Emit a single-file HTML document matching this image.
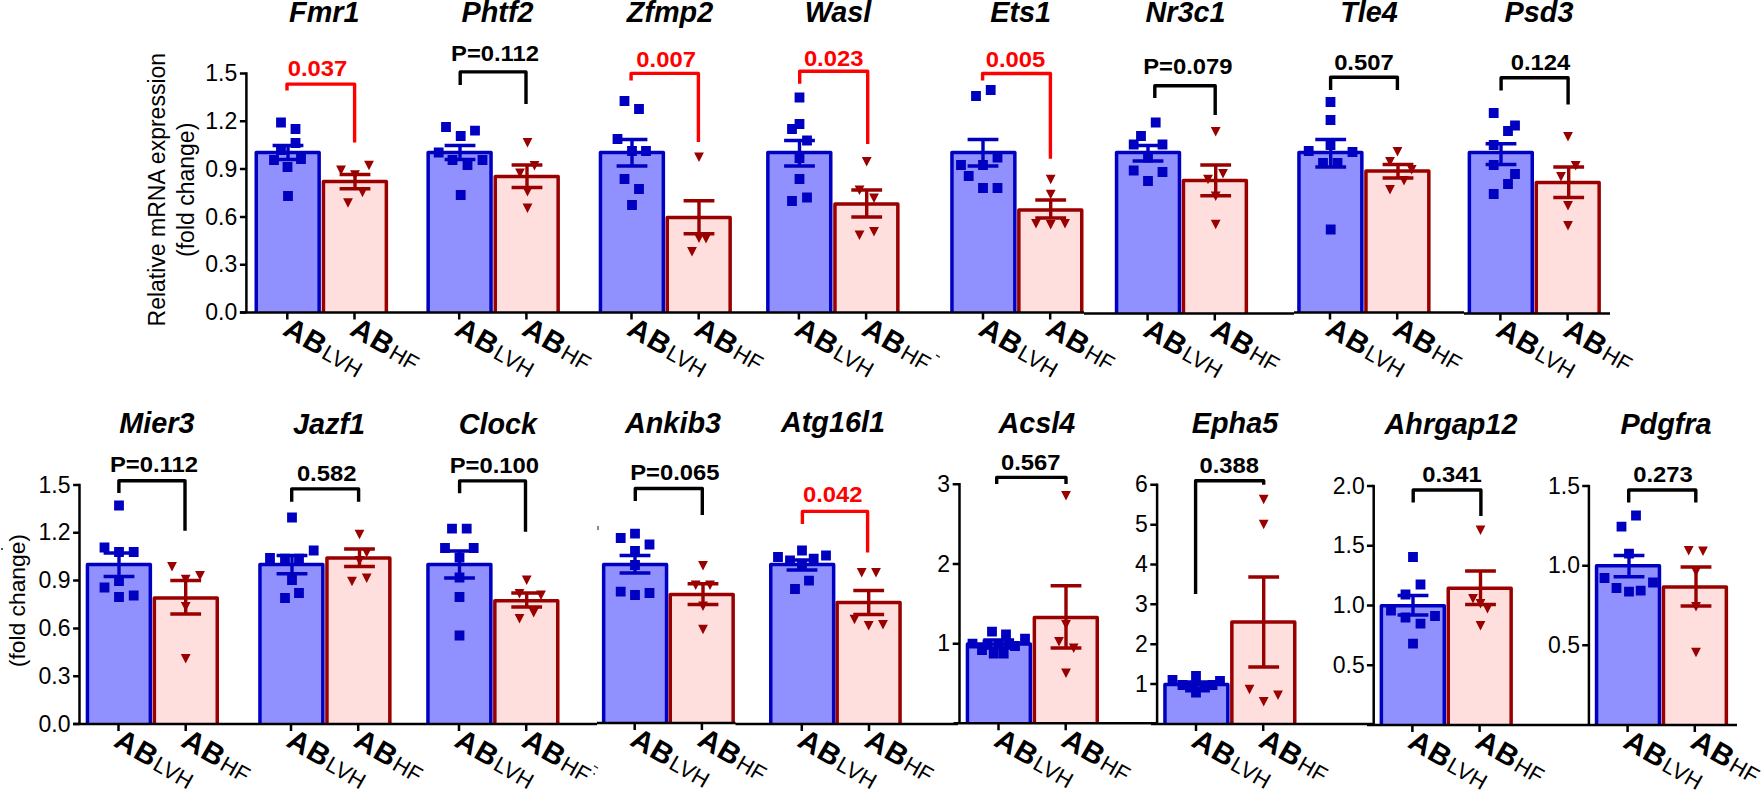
<!DOCTYPE html>
<html><head><meta charset="utf-8"><title>Figure</title><style>
html,body{margin:0;padding:0;background:#fff}
svg{display:block}
text{font-family:"Liberation Sans",Arial,sans-serif;fill:#000}
.ti{font-size:28.8px;font-weight:bold;font-style:italic;text-anchor:middle}
.pv{font-size:23.8px;font-weight:bold;text-anchor:middle}
.rd{fill:#ff0000}
.tk{font-size:23.0px;text-anchor:end}
.yl{font-size:23px;text-anchor:middle}
.ab{font-size:29.5px;font-weight:bold}
.sub{font-size:22.3px;font-weight:normal;font-style:normal}
</style></head><body>
<svg width="1762" height="793" viewBox="0 0 1762 793">
<rect width="1762" height="793" fill="#fff"/>
<g>
<path d="M256.25 312.5V152.5H319.15V312.5" fill="#9090ff" stroke="#0000c0" stroke-width="3.5" stroke-linejoin="round"/>
<path d="M323.45 312.5V181.4H386.35V312.5" fill="#ffdede" stroke="#990000" stroke-width="3.5" stroke-linejoin="round"/>
<path d="M276.1 117.6h9.8v9.8h-9.8zM290.6 124.1h9.8v9.8h-9.8zM290.6 138.1h9.8v9.8h-9.8zM276.1 145.1h9.8v9.8h-9.8zM269.1 155.1h9.8v9.8h-9.8zM296.1 154.1h9.8v9.8h-9.8zM282.6 162.1h9.8v9.8h-9.8zM283.1 191.1h9.8v9.8h-9.8z" fill="#0000c0"/>
<path d="M336.1 165.6h9.8l-4.9 9.6zM364.1 160.7h9.8l-4.9 9.6zM350.1 170.2h9.8l-4.9 9.6zM357.6 187.6h9.8l-4.9 9.6zM343.1 198.2h9.8l-4.9 9.6z" fill="#990000"/>
<path d="M272.6 145.5H303.4M272.6 159.5H303.4M288 145.5V159.5" fill="none" stroke="#0000c0" stroke-width="3.4"/>
<path d="M339.6 174.5H370.4M339.6 188.7H370.4M355 174.5V188.7" fill="none" stroke="#990000" stroke-width="3.4"/>
<path d="M287 90.5V84.1H354.6V142.5" fill="none" stroke="#ff0000" stroke-width="3.4" stroke-linejoin="round"/>
<text x="324.3" y="21.9" class="ti">Fmr1</text>
<text transform="translate(317.5 76.3) scale(1 0.955)" class="pv rd">0.037</text>
<path d="M287.3 312.5v7M354.5 312.5v7" stroke="#000" stroke-width="2.5" fill="none"/>
<text transform="translate(281.4 334.1) rotate(30)" class="ab">A<tspan dx="1">B</tspan><tspan class="sub" dx="1.6" dy="0.7">LVH</tspan></text>
<text transform="translate(348.6 334.1) rotate(30)" class="ab">A<tspan dx="1">B</tspan><tspan class="sub" dx="1.6" dy="0.7">HF</tspan></text>
</g>
<g>
<path d="M428.15 312.5V152.5H491.05V312.5" fill="#9090ff" stroke="#0000c0" stroke-width="3.5" stroke-linejoin="round"/>
<path d="M495.25 312.5V176.5H558.15V312.5" fill="#ffdede" stroke="#990000" stroke-width="3.5" stroke-linejoin="round"/>
<path d="M441.1 122.1h9.8v9.8h-9.8zM470.1 125.8h9.8v9.8h-9.8zM455.8 131.1h9.8v9.8h-9.8zM433.8 147.6h9.8v9.8h-9.8zM447.6 155.1h9.8v9.8h-9.8zM462.6 160.1h9.8v9.8h-9.8zM477.6 155.1h9.8v9.8h-9.8zM455.8 190.1h9.8v9.8h-9.8z" fill="#0000c0"/>
<path d="M522.6 138h9.8l-4.9 9.6zM529.6 161h9.8l-4.9 9.6zM515.1 168.5h9.8l-4.9 9.6zM522.6 187h9.8l-4.9 9.6zM522.6 203.5h9.8l-4.9 9.6z" fill="#990000"/>
<path d="M444.6 145.5H475.4M444.6 159.5H475.4M460 145.5V159.5" fill="none" stroke="#0000c0" stroke-width="3.4"/>
<path d="M511.6 165H542.4M511.6 187.5H542.4M527 165V187.5" fill="none" stroke="#990000" stroke-width="3.4"/>
<path d="M460.2 84.9V71.9H526V104" fill="none" stroke="#000000" stroke-width="3.4" stroke-linejoin="round"/>
<text x="497.5" y="21.9" class="ti">Phtf2</text>
<text transform="translate(495 60.9) scale(1 0.955)" class="pv">P=0.112</text>
<path d="M459.2 312.5v7M526.4 312.5v7" stroke="#000" stroke-width="2.5" fill="none"/>
<text transform="translate(453.3 334.1) rotate(30)" class="ab">A<tspan dx="1">B</tspan><tspan class="sub" dx="1.6" dy="0.7">LVH</tspan></text>
<text transform="translate(520.5 334.1) rotate(30)" class="ab">A<tspan dx="1">B</tspan><tspan class="sub" dx="1.6" dy="0.7">HF</tspan></text>
</g>
<g>
<path d="M600.45 312.5V152.5H663.35V312.5" fill="#9090ff" stroke="#0000c0" stroke-width="3.5" stroke-linejoin="round"/>
<path d="M667.25 312.5V217.5H730.15V312.5" fill="#ffdede" stroke="#990000" stroke-width="3.5" stroke-linejoin="round"/>
<path d="M619.6 96.1h9.8v9.8h-9.8zM634.1 104.1h9.8v9.8h-9.8zM612.6 134.1h9.8v9.8h-9.8zM627.1 146.1h9.8v9.8h-9.8zM641.1 146.1h9.8v9.8h-9.8zM619.6 174.1h9.8v9.8h-9.8zM634.1 184.1h9.8v9.8h-9.8zM627.1 200.1h9.8v9.8h-9.8z" fill="#0000c0"/>
<path d="M694.1 152.5h9.8l-4.9 9.6zM694.1 233.5h9.8l-4.9 9.6zM701.1 234h9.8l-4.9 9.6zM687.1 247h9.8l-4.9 9.6z" fill="#990000"/>
<path d="M616.6 139.5H647.4M616.6 166H647.4M632 139.5V166" fill="none" stroke="#0000c0" stroke-width="3.4"/>
<path d="M683.6 200.7H714.4M683.6 233.7H714.4M699 200.7V233.7" fill="none" stroke="#990000" stroke-width="3.4"/>
<path d="M631.1 80.4V73.4H698.4V142" fill="none" stroke="#ff0000" stroke-width="3.4" stroke-linejoin="round"/>
<text x="670" y="21.9" class="ti">Zfmp2</text>
<text transform="translate(666.1 66.7) scale(1 0.955)" class="pv rd">0.007</text>
<path d="M631.5 312.5v7M698.7 312.5v7" stroke="#000" stroke-width="2.5" fill="none"/>
<text transform="translate(625.6 334.1) rotate(30)" class="ab">A<tspan dx="1">B</tspan><tspan class="sub" dx="1.6" dy="0.7">LVH</tspan></text>
<text transform="translate(692.8 334.1) rotate(30)" class="ab">A<tspan dx="1">B</tspan><tspan class="sub" dx="1.6" dy="0.7">HF</tspan></text>
</g>
<g>
<path d="M767.85 312.5V152.5H830.75V312.5" fill="#9090ff" stroke="#0000c0" stroke-width="3.5" stroke-linejoin="round"/>
<path d="M834.95 312.5V204H897.85V312.5" fill="#ffdede" stroke="#990000" stroke-width="3.5" stroke-linejoin="round"/>
<path d="M794.6 92.6h9.8v9.8h-9.8zM794.6 119.1h9.8v9.8h-9.8zM787.1 124.1h9.8v9.8h-9.8zM802.1 135.6h9.8v9.8h-9.8zM794.6 153.1h9.8v9.8h-9.8zM794.6 174.1h9.8v9.8h-9.8zM802.1 192.6h9.8v9.8h-9.8zM787.1 196.1h9.8v9.8h-9.8z" fill="#0000c0"/>
<path d="M861.8 157h9.8l-4.9 9.6zM854.6 185.5h9.8l-4.9 9.6zM869.1 193.5h9.8l-4.9 9.6zM854.6 230.5h9.8l-4.9 9.6zM869.1 227h9.8l-4.9 9.6z" fill="#990000"/>
<path d="M784.1 140.5H814.9M784.1 166H814.9M799.5 140.5V166" fill="none" stroke="#0000c0" stroke-width="3.4"/>
<path d="M851.3 190H882.1M851.3 217H882.1M866.7 190V217" fill="none" stroke="#990000" stroke-width="3.4"/>
<path d="M799.7 83.8V71.2H867.7V144" fill="none" stroke="#ff0000" stroke-width="3.4" stroke-linejoin="round"/>
<text x="838" y="21.9" class="ti">Wasl</text>
<text transform="translate(833.65 65.9) scale(1 0.955)" class="pv rd">0.023</text>
<path d="M798.9 312.5v7M866.1 312.5v7" stroke="#000" stroke-width="2.5" fill="none"/>
<text transform="translate(793 334.1) rotate(30)" class="ab">A<tspan dx="1">B</tspan><tspan class="sub" dx="1.6" dy="0.7">LVH</tspan></text>
<text transform="translate(860.2 334.1) rotate(30)" class="ab">A<tspan dx="1">B</tspan><tspan class="sub" dx="1.6" dy="0.7">HF</tspan></text>
</g>
<g>
<path d="M951.95 312.5V152.5H1014.85V312.5" fill="#9090ff" stroke="#0000c0" stroke-width="3.5" stroke-linejoin="round"/>
<path d="M1018.85 312.5V210H1081.75V312.5" fill="#ffdede" stroke="#990000" stroke-width="3.5" stroke-linejoin="round"/>
<path d="M985.8 85.1h9.8v9.8h-9.8zM971.1 91.1h9.8v9.8h-9.8zM992.6 152.6h9.8v9.8h-9.8zM956.1 160.1h9.8v9.8h-9.8zM978.1 160.1h9.8v9.8h-9.8zM963.8 171.1h9.8v9.8h-9.8zM978.1 183.1h9.8v9.8h-9.8zM992.6 183.1h9.8v9.8h-9.8z" fill="#0000c0"/>
<path d="M1045.8 174.7h9.8l-4.9 9.6zM1045.8 189.7h9.8l-4.9 9.6zM1031.1 219h9.8l-4.9 9.6zM1045.8 220h9.8l-4.9 9.6zM1060.1 219h9.8l-4.9 9.6z" fill="#990000"/>
<path d="M967.6 139.5H998.4M967.6 166H998.4M983 139.5V166" fill="none" stroke="#0000c0" stroke-width="3.4"/>
<path d="M1035.3 200H1066.1M1035.3 218H1066.1M1050.7 200V218" fill="none" stroke="#990000" stroke-width="3.4"/>
<path d="M982.6 80.4V73.5H1050.4V158.7" fill="none" stroke="#ff0000" stroke-width="3.4" stroke-linejoin="round"/>
<text x="1020.7" y="21.9" class="ti">Ets1</text>
<text transform="translate(1015.5 66.9) scale(1 0.955)" class="pv rd">0.005</text>
<path d="M983 312.5v7M1050.2 312.5v7" stroke="#000" stroke-width="2.5" fill="none"/>
<text transform="translate(977.1 334.1) rotate(30)" class="ab">A<tspan dx="1">B</tspan><tspan class="sub" dx="1.6" dy="0.7">LVH</tspan></text>
<text transform="translate(1044.3 334.1) rotate(30)" class="ab">A<tspan dx="1">B</tspan><tspan class="sub" dx="1.6" dy="0.7">HF</tspan></text>
</g>
<g>
<path d="M1116.55 313.4V152.5H1179.45V313.4" fill="#9090ff" stroke="#0000c0" stroke-width="3.5" stroke-linejoin="round"/>
<path d="M1183.45 313.4V180.5H1246.35V313.4" fill="#ffdede" stroke="#990000" stroke-width="3.5" stroke-linejoin="round"/>
<path d="M1150.8 117.6h9.8v9.8h-9.8zM1136.1 131.1h9.8v9.8h-9.8zM1128.8 139.6h9.8v9.8h-9.8zM1157.6 139.6h9.8v9.8h-9.8zM1143.1 152.6h9.8v9.8h-9.8zM1128.8 165.6h9.8v9.8h-9.8zM1157.6 167.1h9.8v9.8h-9.8zM1143.1 176.1h9.8v9.8h-9.8z" fill="#0000c0"/>
<path d="M1210.8 127h9.8l-4.9 9.6zM1218.1 169h9.8l-4.9 9.6zM1203.1 174.7h9.8l-4.9 9.6zM1210.8 191.5h9.8l-4.9 9.6zM1210.8 219.7h9.8l-4.9 9.6z" fill="#990000"/>
<path d="M1132.6 145.5H1163.4M1132.6 161H1163.4M1148 145.5V161" fill="none" stroke="#0000c0" stroke-width="3.4"/>
<path d="M1200.3 165H1231.1M1200.3 195.7H1231.1M1215.7 165V195.7" fill="none" stroke="#990000" stroke-width="3.4"/>
<path d="M1154.8 98V85.8H1215.2V115" fill="none" stroke="#000000" stroke-width="3.4" stroke-linejoin="round"/>
<text x="1185.5" y="21.9" class="ti">Nr3c1</text>
<text transform="translate(1187.8 73.5) scale(1 0.955)" class="pv">P=0.079</text>
<path d="M1147.6 313.4v7M1214.8 313.4v7" stroke="#000" stroke-width="2.5" fill="none"/>
<text transform="translate(1141.7 335) rotate(30)" class="ab">A<tspan dx="1">B</tspan><tspan class="sub" dx="1.6" dy="0.7">LVH</tspan></text>
<text transform="translate(1208.9 335) rotate(30)" class="ab">A<tspan dx="1">B</tspan><tspan class="sub" dx="1.6" dy="0.7">HF</tspan></text>
</g>
<g>
<path d="M1298.95 312.5V152.5H1361.85V312.5" fill="#9090ff" stroke="#0000c0" stroke-width="3.5" stroke-linejoin="round"/>
<path d="M1365.95 312.5V171H1428.85V312.5" fill="#ffdede" stroke="#990000" stroke-width="3.5" stroke-linejoin="round"/>
<path d="M1325.6 97.1h9.8v9.8h-9.8zM1325.6 115.1h9.8v9.8h-9.8zM1303.8 146.1h9.8v9.8h-9.8zM1347.6 147.1h9.8v9.8h-9.8zM1318.1 158.1h9.8v9.8h-9.8zM1332.6 158.1h9.8v9.8h-9.8zM1325.8 224.6h9.8v9.8h-9.8zM1325.6 140.1h9.8v9.8h-9.8z" fill="#0000c0"/>
<path d="M1392.6 147h9.8l-4.9 9.6zM1385.1 157h9.8l-4.9 9.6zM1406.8 165h9.8l-4.9 9.6zM1399.1 176h9.8l-4.9 9.6zM1385.1 185h9.8l-4.9 9.6z" fill="#990000"/>
<path d="M1315.3 139.5H1346.1M1315.3 167H1346.1M1330.7 139.5V167" fill="none" stroke="#0000c0" stroke-width="3.4"/>
<path d="M1382.6 164.5H1413.4M1382.6 178H1413.4M1398 164.5V178" fill="none" stroke="#990000" stroke-width="3.4"/>
<path d="M1330.6 89.9V77.2H1397.4V89.9" fill="none" stroke="#000000" stroke-width="3.4" stroke-linejoin="round"/>
<text x="1369" y="21.9" class="ti">Tle4</text>
<text transform="translate(1363.9 69.8) scale(1 0.955)" class="pv">0.507</text>
<path d="M1330 312.5v7M1397.2 312.5v7" stroke="#000" stroke-width="2.5" fill="none"/>
<text transform="translate(1324.1 334.1) rotate(30)" class="ab">A<tspan dx="1">B</tspan><tspan class="sub" dx="1.6" dy="0.7">LVH</tspan></text>
<text transform="translate(1391.3 334.1) rotate(30)" class="ab">A<tspan dx="1">B</tspan><tspan class="sub" dx="1.6" dy="0.7">HF</tspan></text>
</g>
<g>
<path d="M1469.35 313.5V152.5H1532.25V313.5" fill="#9090ff" stroke="#0000c0" stroke-width="3.5" stroke-linejoin="round"/>
<path d="M1536.25 313.5V182.5H1599.15V313.5" fill="#ffdede" stroke="#990000" stroke-width="3.5" stroke-linejoin="round"/>
<path d="M1488.8 108.1h9.8v9.8h-9.8zM1510.1 120.6h9.8v9.8h-9.8zM1503.1 126.1h9.8v9.8h-9.8zM1488.8 140.1h9.8v9.8h-9.8zM1488.8 160.1h9.8v9.8h-9.8zM1510.1 169.1h9.8v9.8h-9.8zM1503.1 179.1h9.8v9.8h-9.8zM1488.8 189.1h9.8v9.8h-9.8z" fill="#0000c0"/>
<path d="M1563.1 132h9.8l-4.9 9.6zM1570.8 161h9.8l-4.9 9.6zM1556.1 172h9.8l-4.9 9.6zM1563.1 201h9.8l-4.9 9.6zM1563.1 221h9.8l-4.9 9.6z" fill="#990000"/>
<path d="M1485.6 143.7H1516.4M1485.6 164.5H1516.4M1501 143.7V164.5" fill="none" stroke="#0000c0" stroke-width="3.4"/>
<path d="M1553.3 167H1584.1M1553.3 197.5H1584.1M1568.7 167V197.5" fill="none" stroke="#990000" stroke-width="3.4"/>
<path d="M1501.1 90.6V77.7H1568.1V104.5" fill="none" stroke="#000000" stroke-width="3.4" stroke-linejoin="round"/>
<text x="1539" y="21.9" class="ti">Psd3</text>
<text transform="translate(1540.5 70.1) scale(1 0.955)" class="pv">0.124</text>
<path d="M1500.4 313.5v7M1567.6 313.5v7" stroke="#000" stroke-width="2.5" fill="none"/>
<text transform="translate(1494.5 335.1) rotate(30)" class="ab">A<tspan dx="1">B</tspan><tspan class="sub" dx="1.6" dy="0.7">LVH</tspan></text>
<text transform="translate(1561.7 335.1) rotate(30)" class="ab">A<tspan dx="1">B</tspan><tspan class="sub" dx="1.6" dy="0.7">HF</tspan></text>
</g>
<g>
<path d="M87.45 724V564.5H150.35V724" fill="#9090ff" stroke="#0000c0" stroke-width="3.5" stroke-linejoin="round"/>
<path d="M154.35 724V598H217.25V724" fill="#ffdede" stroke="#990000" stroke-width="3.5" stroke-linejoin="round"/>
<path d="M114.1 500.6h9.8v9.8h-9.8zM99.6 542.6h9.8v9.8h-9.8zM114.1 547.1h9.8v9.8h-9.8zM128.8 547.1h9.8v9.8h-9.8zM114.1 576.1h9.8v9.8h-9.8zM99.6 582.6h9.8v9.8h-9.8zM114.1 592.1h9.8v9.8h-9.8zM128.8 590.6h9.8v9.8h-9.8z" fill="#0000c0"/>
<path d="M167.1 562h9.8l-4.9 9.6zM195.1 571h9.8l-4.9 9.6zM180.8 574.7h9.8l-4.9 9.6zM180.8 602h9.8l-4.9 9.6zM180.8 654h9.8l-4.9 9.6z" fill="#990000"/>
<path d="M103.6 553H134.4M103.6 576.5H134.4M119 553V576.5" fill="none" stroke="#0000c0" stroke-width="3.4"/>
<path d="M170.3 580.5H201.1M170.3 614H201.1M185.7 580.5V614" fill="none" stroke="#990000" stroke-width="3.4"/>
<path d="M118.9 492.9V480.7H185V530.7" fill="none" stroke="#000000" stroke-width="3.4" stroke-linejoin="round"/>
<text x="156.9" y="433.4" class="ti">Mier3</text>
<text transform="translate(153.9 472.4) scale(1 0.955)" class="pv">P=0.112</text>
<path d="M118.5 724v7M185.7 724v7" stroke="#000" stroke-width="2.5" fill="none"/>
<text transform="translate(112.6 745.6) rotate(30)" class="ab">A<tspan dx="1">B</tspan><tspan class="sub" dx="1.6" dy="0.7">LVH</tspan></text>
<text transform="translate(179.8 745.6) rotate(30)" class="ab">A<tspan dx="1">B</tspan><tspan class="sub" dx="1.6" dy="0.7">HF</tspan></text>
</g>
<g>
<path d="M259.95 724V564.5H322.85V724" fill="#9090ff" stroke="#0000c0" stroke-width="3.5" stroke-linejoin="round"/>
<path d="M326.95 724V558H389.85V724" fill="#ffdede" stroke="#990000" stroke-width="3.5" stroke-linejoin="round"/>
<path d="M287.1 512.6h9.8v9.8h-9.8zM308.8 545.6h9.8v9.8h-9.8zM265.1 553.1h9.8v9.8h-9.8zM280.1 553.8h9.8v9.8h-9.8zM294.1 553.8h9.8v9.8h-9.8zM287.1 575.1h9.8v9.8h-9.8zM294.1 588.1h9.8v9.8h-9.8zM280.1 593.1h9.8v9.8h-9.8z" fill="#0000c0"/>
<path d="M354.6 529.7h9.8l-4.9 9.6zM361.8 548h9.8l-4.9 9.6zM361.8 573.5h9.8l-4.9 9.6zM347.1 576.7h9.8l-4.9 9.6zM354.6 556h9.8l-4.9 9.6z" fill="#990000"/>
<path d="M276.6 555.5H307.4M276.6 573.7H307.4M292 555.5V573.7" fill="none" stroke="#0000c0" stroke-width="3.4"/>
<path d="M344.1 549H374.9M344.1 566.5H374.9M359.5 549V566.5" fill="none" stroke="#990000" stroke-width="3.4"/>
<path d="M291.7 501.7V488.9H358.6V501.7" fill="none" stroke="#000000" stroke-width="3.4" stroke-linejoin="round"/>
<text x="329" y="433.6" class="ti">Jazf1</text>
<text transform="translate(326.65 481.3) scale(1 0.955)" class="pv">0.582</text>
<path d="M291 724v7M358.2 724v7" stroke="#000" stroke-width="2.5" fill="none"/>
<text transform="translate(285.1 745.6) rotate(30)" class="ab">A<tspan dx="1">B</tspan><tspan class="sub" dx="1.6" dy="0.7">LVH</tspan></text>
<text transform="translate(352.3 745.6) rotate(30)" class="ab">A<tspan dx="1">B</tspan><tspan class="sub" dx="1.6" dy="0.7">HF</tspan></text>
</g>
<g>
<path d="M427.95 724V564.5H490.85V724" fill="#9090ff" stroke="#0000c0" stroke-width="3.5" stroke-linejoin="round"/>
<path d="M494.85 724V600.7H557.75V724" fill="#ffdede" stroke="#990000" stroke-width="3.5" stroke-linejoin="round"/>
<path d="M447.1 523.8h9.8v9.8h-9.8zM461.8 523.8h9.8v9.8h-9.8zM440.1 543.1h9.8v9.8h-9.8zM468.8 543.1h9.8v9.8h-9.8zM454.6 552.6h9.8v9.8h-9.8zM454.6 572.6h9.8v9.8h-9.8zM454.6 592.1h9.8v9.8h-9.8zM454.6 630.6h9.8v9.8h-9.8z" fill="#0000c0"/>
<path d="M521.8 575.5h9.8l-4.9 9.6zM514.6 589h9.8l-4.9 9.6zM536.1 590.5h9.8l-4.9 9.6zM528.8 608h9.8l-4.9 9.6zM514.6 614h9.8l-4.9 9.6z" fill="#990000"/>
<path d="M444.1 551H474.9M444.1 578H474.9M459.5 551V578" fill="none" stroke="#0000c0" stroke-width="3.4"/>
<path d="M511.3 593H542.1M511.3 607H542.1M526.7 593V607" fill="none" stroke="#990000" stroke-width="3.4"/>
<path d="M459.6 493.2V480.9H525.5V531.7" fill="none" stroke="#000000" stroke-width="3.4" stroke-linejoin="round"/>
<text x="497.9" y="433.6" class="ti">Clock</text>
<text transform="translate(494.35 472.8) scale(1 0.955)" class="pv">P=0.100</text>
<path d="M459 724v7M526.2 724v7" stroke="#000" stroke-width="2.5" fill="none"/>
<text transform="translate(453.1 745.6) rotate(30)" class="ab">A<tspan dx="1">B</tspan><tspan class="sub" dx="1.6" dy="0.7">LVH</tspan></text>
<text transform="translate(520.3 745.6) rotate(30)" class="ab">A<tspan dx="1">B</tspan><tspan class="sub" dx="1.6" dy="0.7">HF</tspan></text>
</g>
<g>
<path d="M603.65 722.9V564.5H666.55V722.9" fill="#9090ff" stroke="#0000c0" stroke-width="3.5" stroke-linejoin="round"/>
<path d="M670.25 722.9V594.5H733.15V722.9" fill="#ffdede" stroke="#990000" stroke-width="3.5" stroke-linejoin="round"/>
<path d="M630.1 528.8h9.8v9.8h-9.8zM615.8 533.1h9.8v9.8h-9.8zM644.6 539.6h9.8v9.8h-9.8zM630.1 546.1h9.8v9.8h-9.8zM615.8 586.8h9.8v9.8h-9.8zM630.1 590.1h9.8v9.8h-9.8zM644.6 588.1h9.8v9.8h-9.8zM630.1 560.1h9.8v9.8h-9.8z" fill="#0000c0"/>
<path d="M698.1 561h9.8l-4.9 9.6zM690.8 580.5h9.8l-4.9 9.6zM705.1 580.5h9.8l-4.9 9.6zM698.1 601.5h9.8l-4.9 9.6zM698.1 624.7h9.8l-4.9 9.6z" fill="#990000"/>
<path d="M619.6 555.5H650.4M619.6 573H650.4M635 555.5V573" fill="none" stroke="#0000c0" stroke-width="3.4"/>
<path d="M687.6 583.7H718.4M687.6 604.5H718.4M703 583.7V604.5" fill="none" stroke="#990000" stroke-width="3.4"/>
<path d="M635.3 501V488.5H702.3V515" fill="none" stroke="#000000" stroke-width="3.4" stroke-linejoin="round"/>
<text x="673" y="432.7" class="ti">Ankib3</text>
<text transform="translate(674.85 480.4) scale(1 0.955)" class="pv">P=0.065</text>
<path d="M634.7 722.9v7M701.9 722.9v7" stroke="#000" stroke-width="2.5" fill="none"/>
<text transform="translate(628.8 744.5) rotate(30)" class="ab">A<tspan dx="1">B</tspan><tspan class="sub" dx="1.6" dy="0.7">LVH</tspan></text>
<text transform="translate(696 744.5) rotate(30)" class="ab">A<tspan dx="1">B</tspan><tspan class="sub" dx="1.6" dy="0.7">HF</tspan></text>
</g>
<g>
<path d="M770.75 724V564.5H833.65V724" fill="#9090ff" stroke="#0000c0" stroke-width="3.5" stroke-linejoin="round"/>
<path d="M837.15 724V602.5H900.05V724" fill="#ffdede" stroke="#990000" stroke-width="3.5" stroke-linejoin="round"/>
<path d="M797.1 545.6h9.8v9.8h-9.8zM773.1 552.1h9.8v9.8h-9.8zM821.1 550.6h9.8v9.8h-9.8zM785.1 555.6h9.8v9.8h-9.8zM808.8 553.8h9.8v9.8h-9.8zM797.1 560.1h9.8v9.8h-9.8zM804.1 575.8h9.8v9.8h-9.8zM790.1 584.1h9.8v9.8h-9.8z" fill="#0000c0"/>
<path d="M856.8 568h9.8l-4.9 9.6zM871.1 568h9.8l-4.9 9.6zM849.6 614.7h9.8l-4.9 9.6zM863.8 621h9.8l-4.9 9.6zM878.1 620h9.8l-4.9 9.6z" fill="#990000"/>
<path d="M786.6 560H817.4M786.6 570H817.4M802 560V570" fill="none" stroke="#0000c0" stroke-width="3.4"/>
<path d="M853.3 590.5H884.1M853.3 614.5H884.1M868.7 590.5V614.5" fill="none" stroke="#990000" stroke-width="3.4"/>
<path d="M802.4 524V511.4H867.6V552.5" fill="none" stroke="#ff0000" stroke-width="3.4" stroke-linejoin="round"/>
<text x="833" y="431.9" class="ti">Atg16l1</text>
<text transform="translate(832.75 502.3) scale(1 0.955)" class="pv rd">0.042</text>
<path d="M801.8 724v7M869 724v7" stroke="#000" stroke-width="2.5" fill="none"/>
<text transform="translate(795.9 745.6) rotate(30)" class="ab">A<tspan dx="1">B</tspan><tspan class="sub" dx="1.6" dy="0.7">LVH</tspan></text>
<text transform="translate(863.1 745.6) rotate(30)" class="ab">A<tspan dx="1">B</tspan><tspan class="sub" dx="1.6" dy="0.7">HF</tspan></text>
</g>
<g>
<path d="M967.45 723.3V644H1030.35V723.3" fill="#9090ff" stroke="#0000c0" stroke-width="3.5" stroke-linejoin="round"/>
<path d="M1034.35 723.3V617.5H1097.25V723.3" fill="#ffdede" stroke="#990000" stroke-width="3.5" stroke-linejoin="round"/>
<path d="M987.1 626.8h9.8v9.8h-9.8zM1001.1 629.6h9.8v9.8h-9.8zM1020.1 633.8h9.8v9.8h-9.8zM967.6 638.8h9.8v9.8h-9.8zM977.1 645.1h9.8v9.8h-9.8zM988.8 648.8h9.8v9.8h-9.8zM998.8 648.8h9.8v9.8h-9.8zM1010.1 641.1h9.8v9.8h-9.8zM982.6 639.6h9.8v9.8h-9.8zM993.8 639.6h9.8v9.8h-9.8zM1004.1 639.1h9.8v9.8h-9.8z" fill="#0000c0"/>
<path d="M1061.1 491h9.8l-4.9 9.6zM1061.1 620h9.8l-4.9 9.6zM1054.1 637h9.8l-4.9 9.6zM1068.8 643.5h9.8l-4.9 9.6zM1061.1 668.5h9.8l-4.9 9.6z" fill="#990000"/>
<path d="M983.3 640H1014.1M983.3 648H1014.1M998.7 640V648" fill="none" stroke="#0000c0" stroke-width="3.4"/>
<path d="M1050.6 585.7H1081.4M1050.6 648H1081.4M1066 585.7V648" fill="none" stroke="#990000" stroke-width="3.4"/>
<path d="M996.7 483.9V477.4H1066V483.9" fill="none" stroke="#000000" stroke-width="3.4" stroke-linejoin="round"/>
<text x="1036.9" y="432.7" class="ti">Acsl4</text>
<text transform="translate(1030.7 470.3) scale(1 0.955)" class="pv">0.567</text>
<path d="M998.5 723.3v7M1065.7 723.3v7" stroke="#000" stroke-width="2.5" fill="none"/>
<text transform="translate(992.6 744.9) rotate(30)" class="ab">A<tspan dx="1">B</tspan><tspan class="sub" dx="1.6" dy="0.7">LVH</tspan></text>
<text transform="translate(1059.8 744.9) rotate(30)" class="ab">A<tspan dx="1">B</tspan><tspan class="sub" dx="1.6" dy="0.7">HF</tspan></text>
</g>
<g>
<path d="M1164.95 723.9V684.5H1227.85V723.9" fill="#9090ff" stroke="#0000c0" stroke-width="3.5" stroke-linejoin="round"/>
<path d="M1231.85 723.9V622H1294.75V723.9" fill="#ffdede" stroke="#990000" stroke-width="3.5" stroke-linejoin="round"/>
<path d="M1167.6 675.1h9.8v9.8h-9.8zM1191.1 671.1h9.8v9.8h-9.8zM1215.1 676.1h9.8v9.8h-9.8zM1177.6 680.1h9.8v9.8h-9.8zM1191.1 687.6h9.8v9.8h-9.8zM1200.1 682.6h9.8v9.8h-9.8zM1207.6 680.1h9.8v9.8h-9.8zM1185.1 682.6h9.8v9.8h-9.8z" fill="#0000c0"/>
<path d="M1258.8 494.7h9.8l-4.9 9.6zM1258.8 519.7h9.8l-4.9 9.6zM1244.6 684.7h9.8l-4.9 9.6zM1258.8 697h9.8l-4.9 9.6zM1273.1 690.5h9.8l-4.9 9.6z" fill="#990000"/>
<path d="M1180.6 682H1211.4M1180.6 688H1211.4M1196 682V688" fill="none" stroke="#0000c0" stroke-width="3.4"/>
<path d="M1248.3 577H1279.1M1248.3 667H1279.1M1263.7 577V667" fill="none" stroke="#990000" stroke-width="3.4"/>
<path d="M1195.6 594V480.7H1263.7V484.7" fill="none" stroke="#000000" stroke-width="3.4" stroke-linejoin="round"/>
<text x="1235" y="433.2" class="ti">Epha5</text>
<text transform="translate(1229.2 473.3) scale(1 0.955)" class="pv">0.388</text>
<path d="M1196 723.9v7M1263.2 723.9v7" stroke="#000" stroke-width="2.5" fill="none"/>
<text transform="translate(1190.1 745.5) rotate(30)" class="ab">A<tspan dx="1">B</tspan><tspan class="sub" dx="1.6" dy="0.7">LVH</tspan></text>
<text transform="translate(1257.3 745.5) rotate(30)" class="ab">A<tspan dx="1">B</tspan><tspan class="sub" dx="1.6" dy="0.7">HF</tspan></text>
</g>
<g>
<path d="M1381.35 724.9V605.7H1444.25V724.9" fill="#9090ff" stroke="#0000c0" stroke-width="3.5" stroke-linejoin="round"/>
<path d="M1448.25 724.9V588.3H1511.15V724.9" fill="#ffdede" stroke="#990000" stroke-width="3.5" stroke-linejoin="round"/>
<path d="M1408.1 552.1h9.8v9.8h-9.8zM1415.6 579.6h9.8v9.8h-9.8zM1400.6 589.6h9.8v9.8h-9.8zM1386.1 605.8h9.8v9.8h-9.8zM1430.1 611.1h9.8v9.8h-9.8zM1400.6 612.6h9.8v9.8h-9.8zM1415.6 618.8h9.8v9.8h-9.8zM1408.1 638.8h9.8v9.8h-9.8z" fill="#0000c0"/>
<path d="M1475.6 525.5h9.8l-4.9 9.6zM1468.1 594h9.8l-4.9 9.6zM1482.6 604h9.8l-4.9 9.6zM1475.6 621h9.8l-4.9 9.6zM1475.6 599h9.8l-4.9 9.6z" fill="#990000"/>
<path d="M1397.6 595.5H1428.4M1397.6 615H1428.4M1413 595.5V615" fill="none" stroke="#0000c0" stroke-width="3.4"/>
<path d="M1465.1 571H1495.9M1465.1 604.5H1495.9M1480.5 571V604.5" fill="none" stroke="#990000" stroke-width="3.4"/>
<path d="M1413.2 502.6V490H1480.9V516" fill="none" stroke="#000000" stroke-width="3.4" stroke-linejoin="round"/>
<text x="1451" y="434" class="ti">Ahrgap12</text>
<text transform="translate(1452 482.1) scale(1 0.955)" class="pv">0.341</text>
<path d="M1412.4 724.9v7M1479.6 724.9v7" stroke="#000" stroke-width="2.5" fill="none"/>
<text transform="translate(1406.5 746.5) rotate(30)" class="ab">A<tspan dx="1">B</tspan><tspan class="sub" dx="1.6" dy="0.7">LVH</tspan></text>
<text transform="translate(1473.7 746.5) rotate(30)" class="ab">A<tspan dx="1">B</tspan><tspan class="sub" dx="1.6" dy="0.7">HF</tspan></text>
</g>
<g>
<path d="M1596.55 724.9V565.7H1659.45V724.9" fill="#9090ff" stroke="#0000c0" stroke-width="3.5" stroke-linejoin="round"/>
<path d="M1663.45 724.9V587H1726.35V724.9" fill="#ffdede" stroke="#990000" stroke-width="3.5" stroke-linejoin="round"/>
<path d="M1631.1 510.6h9.8v9.8h-9.8zM1616.6 521.8h9.8v9.8h-9.8zM1624.1 548.8h9.8v9.8h-9.8zM1599.6 573.1h9.8v9.8h-9.8zM1648.1 577.6h9.8v9.8h-9.8zM1611.6 583.1h9.8v9.8h-9.8zM1624.1 586.8h9.8v9.8h-9.8zM1635.8 585.8h9.8v9.8h-9.8z" fill="#0000c0"/>
<path d="M1683.8 546h9.8l-4.9 9.6zM1698.1 546.5h9.8l-4.9 9.6zM1691.1 567h9.8l-4.9 9.6zM1691.1 602h9.8l-4.9 9.6zM1691.1 647.7h9.8l-4.9 9.6z" fill="#990000"/>
<path d="M1613.6 555.5H1644.4M1613.6 576.7H1644.4M1629 555.5V576.7" fill="none" stroke="#0000c0" stroke-width="3.4"/>
<path d="M1680.6 567H1711.4M1680.6 606H1711.4M1696 567V606" fill="none" stroke="#990000" stroke-width="3.4"/>
<path d="M1628.7 502.6V490H1695.8V502.6" fill="none" stroke="#000000" stroke-width="3.4" stroke-linejoin="round"/>
<text x="1666" y="434" class="ti">Pdgfra</text>
<text transform="translate(1663 481.8) scale(1 0.955)" class="pv">0.273</text>
<path d="M1627.6 724.9v7M1694.8 724.9v7" stroke="#000" stroke-width="2.5" fill="none"/>
<text transform="translate(1621.7 746.5) rotate(30)" class="ab">A<tspan dx="1">B</tspan><tspan class="sub" dx="1.6" dy="0.7">LVH</tspan></text>
<text transform="translate(1688.9 746.5) rotate(30)" class="ab">A<tspan dx="1">B</tspan><tspan class="sub" dx="1.6" dy="0.7">HF</tspan></text>
</g>
<path d="M239.9 312.5H1084M1084 313.4H1294M1294 312.5H1464M1464 313.5H1610M73.1 724H597M597 722.9H735.5M735.5 724H958M953.5 723.3H1156.4M1151 723.9H1372.8M1367 724.9H1588M1582 724.9H1737" stroke="#000" stroke-width="2.5" fill="none"/>
<path d="M246.4 72.25V312.5" stroke="#000" stroke-width="2.5" fill="none"/>
<path d="M239.9 73.5H246.4M239.9 121.3H246.4M239.9 169.1H246.4M239.9 216.9H246.4M239.9 264.7H246.4M239.9 312.5H246.4" stroke="#000" stroke-width="2.5" fill="none"/>
<text x="237.3" y="81.1" class="tk">1.5</text>
<text x="237.3" y="128.9" class="tk">1.2</text>
<text x="237.3" y="176.7" class="tk">0.9</text>
<text x="237.3" y="224.5" class="tk">0.6</text>
<text x="237.3" y="272.3" class="tk">0.3</text>
<text x="237.3" y="320.1" class="tk">0.0</text>
<path d="M79.5 483.75V724" stroke="#000" stroke-width="2.5" fill="none"/>
<path d="M73.1 485H79.5M73.1 532.8H79.5M73.1 580.6H79.5M73.1 628.4H79.5M73.1 676.2H79.5M73.1 724H79.5" stroke="#000" stroke-width="2.5" fill="none"/>
<text x="70.5" y="492.6" class="tk">1.5</text>
<text x="70.5" y="540.4" class="tk">1.2</text>
<text x="70.5" y="588.2" class="tk">0.9</text>
<text x="70.5" y="636" class="tk">0.6</text>
<text x="70.5" y="683.8" class="tk">0.3</text>
<text x="70.5" y="731.6" class="tk">0.0</text>
<path d="M959.5 483.05V723.3" stroke="#000" stroke-width="2.5" fill="none"/>
<path d="M952.7 484.3H959.5M952.7 563.97H959.5M952.7 643.64H959.5" stroke="#000" stroke-width="2.5" fill="none"/>
<text x="950.1" y="491.9" class="tk">3</text>
<text x="950.1" y="571.57" class="tk">2</text>
<text x="950.1" y="651.24" class="tk">1</text>
<path d="M1157.1 483.55V723.9" stroke="#000" stroke-width="2.5" fill="none"/>
<path d="M1150.3 484.8H1157.1M1150.3 524.65H1157.1M1150.3 564.5H1157.1M1150.3 604.35H1157.1M1150.3 644.2H1157.1M1150.3 684.05H1157.1" stroke="#000" stroke-width="2.5" fill="none"/>
<text x="1147.9" y="492.4" class="tk">6</text>
<text x="1147.9" y="532.25" class="tk">5</text>
<text x="1147.9" y="572.1" class="tk">4</text>
<text x="1147.9" y="611.95" class="tk">3</text>
<text x="1147.9" y="651.8" class="tk">2</text>
<text x="1147.9" y="691.65" class="tk">1</text>
<path d="M1373.7 484.85V724.9" stroke="#000" stroke-width="2.5" fill="none"/>
<path d="M1366.9 486.1H1373.7M1366.9 545.8H1373.7M1366.9 605.5H1373.7M1366.9 665.2H1373.7" stroke="#000" stroke-width="2.5" fill="none"/>
<text x="1364.8" y="493.7" class="tk">2.0</text>
<text x="1364.8" y="553.4" class="tk">1.5</text>
<text x="1364.8" y="613.1" class="tk">1.0</text>
<text x="1364.8" y="672.8" class="tk">0.5</text>
<path d="M1588.9 484.85V724.9" stroke="#000" stroke-width="2.5" fill="none"/>
<path d="M1582.2 486.1H1588.9M1582.2 565.7H1588.9M1582.2 645.3H1588.9" stroke="#000" stroke-width="2.5" fill="none"/>
<text x="1580" y="493.7" class="tk">1.5</text>
<text x="1580" y="573.3" class="tk">1.0</text>
<text x="1580" y="652.9" class="tk">0.5</text>
<text transform="translate(165.3 189.7) rotate(-90)" class="yl">Relative mRNA expression</text>
<text transform="translate(193.5 189.8) rotate(-90)" class="yl">(fold change)</text>
<text transform="translate(25.2 600.6) rotate(-90)" class="yl" style="font-size:22.8px">(fold change)</text>
<path d="M936.2 354.9L939.7 357.4M593.9 765.7L598.1 768.2" stroke="#222" stroke-width="1.3" fill="none"/>
<circle cx="594.2" cy="773.9" r="0.9" fill="#222"/>
<rect x="597" y="526" width="2" height="4" fill="#8a8a8a"/>
<rect x="1" y="548" width="2" height="2" fill="#555"/>
</svg>
</body></html>
